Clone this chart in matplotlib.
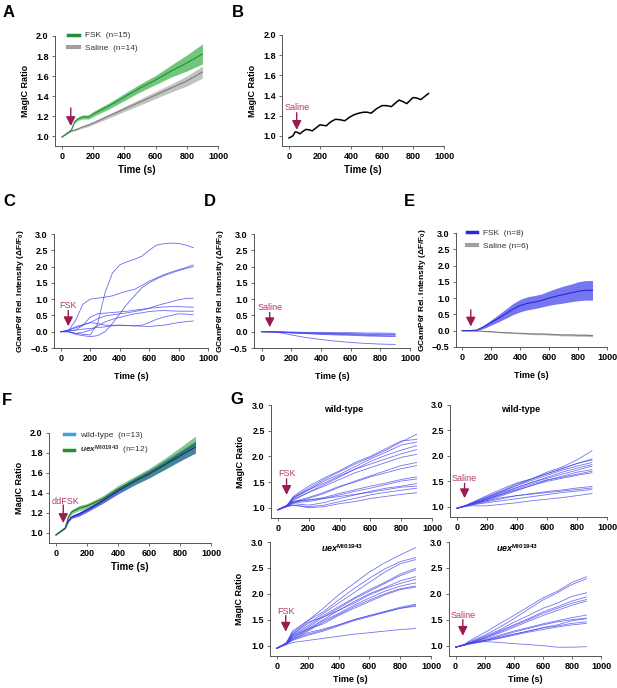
import matplotlib
matplotlib.use('Agg')
import matplotlib.pyplot as plt
from matplotlib.lines import Line2D

plt.rcParams['font.family'] = ['Liberation Sans', 'DejaVu Sans']
plt.rcParams['font.weight'] = 'bold'
plt.rcParams['axes.labelweight'] = 'bold'
plt.rcParams['mathtext.fontset'] = 'custom'
plt.rcParams['mathtext.rm'] = 'Liberation Sans'
plt.rcParams['mathtext.it'] = 'Liberation Sans:italic'
plt.rcParams['mathtext.bf'] = 'Liberation Sans:bold'
HAS_BFIT = 'mathtext.bfit' in plt.rcParams
if HAS_BFIT:
    plt.rcParams['mathtext.bfit'] = 'Liberation Sans:bold:italic'

# ---- data ----
# A: MagIC ratio, mean +/- sem
a_time = [0, 60, 80, 100, 130, 170, 200, 300, 400, 500, 600, 700, 800, 900]
a_fsk = [0.99, 1.06, 1.14, 1.17, 1.19, 1.19, 1.22, 1.30, 1.39, 1.48, 1.56, 1.65, 1.73, 1.82]
a_fsk_sem = [0.0, 0.005, 0.01, 0.015, 0.02, 0.02, 0.025, 0.03, 0.035, 0.04, 0.045, 0.06, 0.08, 0.10]
a_sal = [0.99, 1.05, 1.06, 1.07, 1.09, 1.11, 1.13, 1.20, 1.27, 1.34, 1.41, 1.48, 1.55, 1.64]
a_sal_sem = [0.0, 0.005, 0.01, 0.01, 0.012, 0.015, 0.015, 0.02, 0.025, 0.03, 0.035, 0.04, 0.05, 0.06]

# B: single saline trace
b_time = [0, 25, 40, 55, 70, 90, 110, 130, 150, 175, 200, 220, 240, 270, 300, 330, 360,
          390, 420, 450, 480, 505, 530, 565, 600, 630, 660, 690, 710, 735, 760, 780,
          800, 825, 850, 875, 900]
b_ratio = [0.98, 1.00, 1.04, 1.035, 1.02, 1.045, 1.065, 1.06, 1.05, 1.08, 1.11, 1.105,
           1.10, 1.14, 1.165, 1.16, 1.15, 1.185, 1.21, 1.225, 1.235, 1.235, 1.225, 1.27,
           1.30, 1.30, 1.29, 1.33, 1.355, 1.34, 1.32, 1.35, 1.38, 1.375, 1.36, 1.39, 1.42]

# C: GCaMP6f traces, FSK
c_time = [0, 50, 100, 150, 200, 250, 300, 350, 400, 450, 500, 550, 600, 650, 700, 750, 800, 850, 900]
c_traces = [
    [0, 0.0, -0.05, -0.08, -0.1, 0.25, 1.2, 1.8, 2.05, 2.15, 2.22, 2.32, 2.5, 2.66, 2.7, 2.72, 2.71, 2.66, 2.58],
    [0, 0.02, 0.35, 0.85, 1.0, 1.03, 1.06, 1.1, 1.18, 1.25, 1.3, 1.42, 1.55, 1.65, 1.75, 1.83, 1.9, 1.97, 2.05],
    [0, 0.0, -0.08, -0.12, -0.15, -0.12, 0.0, 0.25, 0.55, 0.85, 1.1, 1.35, 1.5, 1.62, 1.72, 1.8, 1.88, 1.94, 2.0],
    [0, 0.05, 0.12, 0.2, 0.28, 0.4, 0.48, 0.52, 0.55, 0.58, 0.62, 0.66, 0.72, 0.8, 0.86, 0.92, 0.98, 1.02, 1.03],
    [0, 0.02, 0.05, 0.2, 0.45, 0.55, 0.57, 0.59, 0.61, 0.63, 0.66, 0.69, 0.72, 0.74, 0.76, 0.77, 0.77, 0.76, 0.75],
    [0, 0.0, -0.05, -0.02, 0.05, 0.18, 0.3, 0.38, 0.44, 0.5, 0.55, 0.58, 0.62, 0.64, 0.65, 0.64, 0.63, 0.63, 0.63],
    [0, 0.05, 0.15, 0.22, 0.28, 0.25, 0.2, 0.2, 0.2, 0.19, 0.18, 0.2, 0.28, 0.38, 0.45, 0.5, 0.55, 0.54, 0.52],
    [0, 0.02, 0.05, 0.08, 0.1, 0.13, 0.15, 0.18, 0.2, 0.19, 0.18, 0.17, 0.16, 0.18, 0.2, 0.24, 0.28, 0.31, 0.33],
]

# D: GCaMP6f traces, saline
d_time = [0, 100, 200, 300, 400, 500, 600, 700, 800, 900]
d_traces = [
    [0, -0.01, -0.10, -0.18, -0.24, -0.29, -0.33, -0.36, -0.38, -0.39],
    [0, 0.0, -0.01, -0.02, -0.02, -0.03, -0.03, -0.04, -0.04, -0.05],
    [0, 0.0, -0.02, -0.03, -0.04, -0.05, -0.06, -0.07, -0.07, -0.08],
    [0, -0.01, -0.03, -0.04, -0.05, -0.06, -0.07, -0.08, -0.09, -0.10],
    [0, -0.01, -0.03, -0.05, -0.07, -0.08, -0.09, -0.11, -0.12, -0.13],
    [0, -0.01, -0.04, -0.06, -0.08, -0.10, -0.11, -0.13, -0.14, -0.15],
]

# E: GCaMP6f mean +/- sem
e_time = [0, 50, 100, 150, 200, 250, 300, 350, 400, 450, 500, 550, 600, 650, 700, 750, 800, 850, 900]
e_fsk = [0, 0, 0.02, 0.12, 0.25, 0.38, 0.52, 0.66, 0.77, 0.84, 0.88, 0.93, 1.0, 1.06, 1.11, 1.16, 1.21, 1.24, 1.24]
e_fsk_sem = [0, 0.005, 0.02, 0.05, 0.08, 0.11, 0.14, 0.17, 0.19, 0.2, 0.2, 0.2, 0.22, 0.24, 0.26, 0.27, 0.29, 0.3, 0.3]
e_sal = [0, 0, -0.01, -0.02, -0.03, -0.05, -0.06, -0.07, -0.08, -0.09, -0.1, -0.1, -0.11, -0.12, -0.13, -0.13, -0.14, -0.14, -0.15]
e_sal_sem = [0, 0.003, 0.005, 0.008, 0.01, 0.012, 0.014, 0.016, 0.018, 0.02, 0.022, 0.024, 0.026, 0.028, 0.03, 0.032, 0.034, 0.036, 0.038]

# F: MagIC ratio, wild-type vs uex, ddFSK
f_time = [0, 60, 80, 100, 150, 200, 300, 400, 500, 600, 700, 800, 900]
f_wt = [0.98, 1.05, 1.12, 1.16, 1.19, 1.23, 1.32, 1.42, 1.51, 1.59, 1.68, 1.77, 1.86]
f_wt_sem = [0, 0.005, 0.01, 0.015, 0.02, 0.02, 0.025, 0.03, 0.035, 0.04, 0.045, 0.05, 0.06]
f_uex = [0.98, 1.05, 1.16, 1.21, 1.25, 1.27, 1.34, 1.44, 1.52, 1.60, 1.69, 1.79, 1.89]
f_uex_sem = [0, 0.005, 0.015, 0.02, 0.025, 0.025, 0.03, 0.035, 0.04, 0.045, 0.055, 0.065, 0.08]

# G: individual MagIC traces
g_time = [0, 60, 100, 200, 300, 400, 500, 600, 700, 800, 900]
g_wt_fsk = [
    [0.96, 1.05, 1.20, 1.38, 1.55, 1.70, 1.85, 1.98, 2.12, 2.28, 2.43],
    [0.96, 1.04, 1.22, 1.42, 1.58, 1.72, 1.88, 2.00, 2.15, 2.30, 2.33],
    [0.96, 1.05, 1.18, 1.35, 1.52, 1.65, 1.80, 1.95, 2.08, 2.22, 2.28],
    [0.96, 1.04, 1.15, 1.30, 1.45, 1.60, 1.75, 1.90, 2.02, 2.12, 2.21],
    [0.96, 1.05, 1.20, 1.35, 1.48, 1.62, 1.75, 1.85, 1.95, 2.05, 2.13],
    [0.96, 1.04, 1.16, 1.30, 1.42, 1.55, 1.68, 1.78, 1.88, 1.98, 2.04],
    [0.96, 1.03, 1.10, 1.18, 1.28, 1.40, 1.52, 1.62, 1.72, 1.82, 1.88],
    [0.96, 1.04, 1.12, 1.20, 1.30, 1.42, 1.50, 1.60, 1.68, 1.76, 1.82],
    [0.96, 1.04, 1.12, 1.15, 1.20, 1.28, 1.35, 1.42, 1.48, 1.55, 1.60],
    [0.96, 1.03, 1.10, 1.12, 1.18, 1.25, 1.32, 1.38, 1.45, 1.52, 1.56],
    [0.96, 1.03, 1.08, 1.05, 1.10, 1.18, 1.25, 1.32, 1.38, 1.42, 1.47],
    [0.96, 1.04, 1.12, 1.15, 1.18, 1.22, 1.26, 1.30, 1.35, 1.40, 1.42],
    [0.96, 1.03, 1.05, 1.02, 1.05, 1.12, 1.18, 1.25, 1.30, 1.34, 1.38],
    [0.96, 1.02, 1.05, 1.00, 1.02, 1.08, 1.12, 1.18, 1.22, 1.26, 1.29],
]
g_wt_sal = [
    [0.97, 1.02, 1.06, 1.18, 1.30, 1.42, 1.55, 1.68, 1.78, 1.92, 2.10],
    [0.97, 1.03, 1.08, 1.22, 1.35, 1.47, 1.55, 1.65, 1.75, 1.85, 1.94],
    [0.97, 1.03, 1.08, 1.20, 1.32, 1.45, 1.55, 1.65, 1.75, 1.85, 1.92],
    [0.97, 1.02, 1.07, 1.18, 1.30, 1.42, 1.52, 1.62, 1.72, 1.80, 1.87],
    [0.97, 1.02, 1.06, 1.15, 1.26, 1.38, 1.48, 1.58, 1.68, 1.76, 1.83],
    [0.97, 1.02, 1.06, 1.16, 1.28, 1.38, 1.48, 1.56, 1.64, 1.72, 1.80],
    [0.97, 1.02, 1.05, 1.12, 1.22, 1.32, 1.42, 1.52, 1.60, 1.68, 1.73],
    [0.97, 1.02, 1.05, 1.14, 1.24, 1.35, 1.45, 1.53, 1.58, 1.64, 1.70],
    [0.97, 1.02, 1.04, 1.10, 1.16, 1.22, 1.26, 1.30, 1.33, 1.37, 1.40],
    [0.97, 1.02, 1.05, 1.12, 1.18, 1.22, 1.25, 1.28, 1.31, 1.34, 1.37],
    [0.97, 1.01, 1.04, 1.08, 1.12, 1.16, 1.20, 1.24, 1.28, 1.31, 1.34],
    [0.97, 1.01, 1.02, 1.02, 1.05, 1.08, 1.12, 1.15, 1.18, 1.22, 1.26],
    [0.97, 1.02, 1.06, 1.15, 1.25, 1.33, 1.42, 1.50, 1.56, 1.62, 1.67],
]
g_uex_fsk = [
    [0.95, 1.05, 1.25, 1.48, 1.72, 1.98, 2.20, 2.42, 2.60, 2.75, 2.89],
    [0.95, 1.04, 1.28, 1.48, 1.65, 1.88, 2.10, 2.30, 2.48, 2.62, 2.70],
    [0.95, 1.05, 1.22, 1.42, 1.62, 1.82, 2.02, 2.22, 2.42, 2.58, 2.66],
    [0.95, 1.04, 1.20, 1.38, 1.58, 1.75, 1.92, 2.08, 2.22, 2.38, 2.49],
    [0.95, 1.04, 1.18, 1.35, 1.55, 1.72, 1.90, 2.05, 2.20, 2.35, 2.46],
    [0.95, 1.05, 1.22, 1.45, 1.55, 1.68, 1.85, 2.00, 2.12, 2.25, 2.33],
    [0.95, 1.04, 1.18, 1.32, 1.50, 1.68, 1.82, 1.98, 2.10, 2.20, 2.28],
    [0.95, 1.04, 1.15, 1.30, 1.48, 1.62, 1.78, 1.92, 2.05, 2.15, 2.21],
    [0.95, 1.03, 1.12, 1.28, 1.45, 1.60, 1.75, 1.88, 2.00, 2.10, 2.15],
    [0.95, 1.04, 1.15, 1.32, 1.42, 1.58, 1.72, 1.85, 1.98, 2.08, 2.13],
    [0.95, 1.03, 1.12, 1.22, 1.30, 1.40, 1.50, 1.58, 1.66, 1.74, 1.80],
    [0.95, 1.03, 1.10, 1.20, 1.28, 1.38, 1.48, 1.56, 1.64, 1.72, 1.78],
    [0.95, 1.03, 1.12, 1.25, 1.32, 1.40, 1.50, 1.58, 1.65, 1.72, 1.76],
    [0.95, 1.02, 1.06, 1.10, 1.14, 1.18, 1.22, 1.25, 1.28, 1.31, 1.33],
]
g_uex_sal = [
    [0.97, 1.02, 1.10, 1.25, 1.42, 1.58, 1.75, 1.92, 2.05, 2.22, 2.33],
    [0.97, 1.02, 1.08, 1.20, 1.35, 1.52, 1.70, 1.88, 2.02, 2.18, 2.29],
    [0.97, 1.02, 1.06, 1.18, 1.30, 1.45, 1.58, 1.72, 1.82, 1.95, 2.02],
    [0.97, 1.01, 1.05, 1.15, 1.28, 1.40, 1.52, 1.65, 1.75, 1.86, 1.94],
    [0.97, 1.02, 1.06, 1.16, 1.26, 1.38, 1.50, 1.62, 1.72, 1.82, 1.89],
    [0.97, 1.01, 1.05, 1.14, 1.24, 1.35, 1.47, 1.58, 1.68, 1.78, 1.86],
    [0.97, 1.01, 1.05, 1.12, 1.20, 1.28, 1.35, 1.42, 1.48, 1.54, 1.59],
    [0.97, 1.01, 1.04, 1.10, 1.18, 1.26, 1.33, 1.40, 1.46, 1.50, 1.53],
    [0.97, 1.01, 1.04, 1.10, 1.16, 1.22, 1.28, 1.34, 1.38, 1.43, 1.46],
    [0.97, 1.01, 1.03, 1.08, 1.14, 1.20, 1.26, 1.31, 1.36, 1.40, 1.43],
    [0.97, 1.02, 1.05, 1.10, 1.15, 1.22, 1.28, 1.35, 1.40, 1.48, 1.52],
    [0.97, 1.02, 1.06, 1.08, 1.06, 1.04, 1.02, 1.00, 0.97, 0.97, 0.98],
]

ARROW = '#9a1b52'
LABEL = '#b3366f'
TRACE = '#4545ec'
GREEN, GREEN_BAND = '#1f8f3a', '#4db85a'
GREY, GREY_BAND = '#7d7d7d', '#b8b8b8'

W, H = 617, 688
fig = plt.figure(figsize=(W / 100, H / 100), dpi=100)


def frame(l, r, b, t, xlim, ylim, yticks):
    # l, r, b, t in pixels of the whole image
    ax = fig.add_axes([l / W, 1 - b / H, (r - l) / W, (b - t) / H])
    ax.set_xlim(*xlim)
    ax.set_ylim(*ylim)
    ax.set_xticks([0, 200, 400, 600, 800, 1000])
    ax.set_yticks(yticks)
    for s in ('top', 'right'):
        ax.spines[s].set_visible(False)
    for s in ('left', 'bottom'):
        ax.spines[s].set_color('#555555')
        ax.spines[s].set_linewidth(0.7)
    ax.tick_params(labelsize=6.5, width=0.6, length=2.5, color='#555555', pad=2)
    ax.patch.set_alpha(0)
    return ax


def mark(ax, t, top, tip, label=None, ly=None, lx=None):
    ax.annotate('', xy=(t, tip), xytext=(t, top),
                arrowprops=dict(arrowstyle='-|>,head_width=0.28,head_length=0.55',
                                color=ARROW, lw=1.0, shrinkA=0, shrinkB=0))
    if label:
        ax.text(t if lx is None else lx, ly, label, ha='center', va='center',
                color=LABEL, fontsize=6.5, fontweight='normal')


def band(ax, x, m, s, line, fill, alpha=0.85, lw=0.8):
    lo = [a - b for a, b in zip(m, s)]
    hi = [a + b for a, b in zip(m, s)]
    ax.fill_between(x, lo, hi, color=fill, alpha=alpha, lw=0)
    ax.plot(x, m, color=line, lw=lw)


def legend(ax, handles, labels, anchor):
    lg = ax.legend(handles, labels, loc='upper left', bbox_to_anchor=anchor,
                   frameon=False, handlelength=1.3, handletextpad=0.7,
                   borderpad=0, borderaxespad=0, labelspacing=0.6,
                   prop={'weight': 'normal', 'size': 6})
    for t in lg.get_texts():
        t.set_color('#333333')


magic_ticks = [1.0, 1.2, 1.4, 1.6, 1.8, 2.0]
gc_ticks = [-0.5, 0.0, 0.5, 1.0, 1.5, 2.0, 2.5, 3.0]
g_ticks = [1.0, 1.5, 2.0, 2.5, 3.0]
gc_label = 'GCamP6f Rel. Intensity (ΔF/F$_\\mathbf{0}$)'

# ---- A ----
ax = frame(55, 218, 146, 36, (-45, 1000), (0.9, 2.0), magic_ticks)
band(ax, a_time, a_sal, a_sal_sem, GREY, GREY_BAND)
band(ax, a_time, a_fsk, a_fsk_sem, GREEN, GREEN_BAND, alpha=0.8)
mark(ax, 56, 1.28, 1.10)
ax.set_xlabel('Time (s)', fontsize=7, labelpad=3)
ax.set_ylabel('MagIC Ratio', fontsize=6.5, labelpad=4)
legend(ax, [Line2D([], [], color=GREEN, lw=2.5), Line2D([], [], color='#a0a0a0', lw=3)],
       ['FSK  (n=15)', 'Saline  (n=14)'], (0.08, 1.04))

# ---- B ----
ax = frame(282, 444, 146, 35, (-45, 1000), (0.9, 2.0), magic_ticks)
ax.plot(b_time, b_ratio, color='black', lw=1.1)
mark(ax, 50, 1.23, 1.06, 'Saline', 1.28)
ax.set_xlabel('Time (s)', fontsize=7, labelpad=3)
ax.set_ylabel('MagIC Ratio', fontsize=6.5, labelpad=4)

# ---- C ----
ax = frame(54, 208, 348, 234, (-47, 1000), (-0.5, 3.0), gc_ticks)
for tr in c_traces:
    ax.plot(c_time, tr, color=TRACE, lw=0.6, alpha=0.8)
mark(ax, 50, 0.65, 0.17, 'FSK', 0.80)
ax.set_xlabel('Time (s)', fontsize=6.5, labelpad=6)
ax.set_ylabel(gc_label, fontsize=6, labelpad=3)

# ---- D ----
ax = frame(254, 410, 348, 234, (-52, 1000), (-0.5, 3.0), gc_ticks)
for tr in d_traces:
    ax.plot(d_time, tr, color=TRACE, lw=0.6, alpha=0.8)
mark(ax, 54, 0.59, 0.14, 'Saline', 0.73)
ax.set_xlabel('Time (s)', fontsize=6.5, labelpad=6)
ax.set_ylabel(gc_label, fontsize=6, labelpad=3)

# ---- E ----
ax = frame(456, 607, 347, 233, (-42, 1000), (-0.5, 3.0), gc_ticks)
band(ax, e_time, e_sal, e_sal_sem, GREY, GREY_BAND)
band(ax, e_time, e_fsk, e_fsk_sem, '#2a2ad0', '#6767f2', alpha=0.9)
mark(ax, 60, 0.64, 0.13)
ax.set_xlabel('Time (s)', fontsize=6.5, labelpad=6)
ax.set_ylabel(gc_label, fontsize=6, labelpad=3)
legend(ax, [Line2D([], [], color='#2a2ad0', lw=2.5), Line2D([], [], color='#a0a0a0', lw=3)],
       ['FSK  (n=8)', 'Saline (n=6)'], (0.07, 1.03))

# ---- F ----
ax = frame(49, 211, 543, 433, (-45, 1000), (0.9, 2.0), magic_ticks)
band(ax, f_time, f_wt, f_wt_sem, '#1c1ca8', '#5656ee', alpha=0.9)
band(ax, f_time, f_uex, f_uex_sem, '#1d6e33', '#2ea347', alpha=0.6)
mark(ax, 47, 1.28, 1.10, 'ddFSK', 1.32, lx=60)
ax.set_xlabel('Time (s)', fontsize=7, labelpad=3)
ax.set_ylabel('MagIC Ratio', fontsize=6.5, labelpad=4)
legend(ax, [Line2D([], [], color='#35a8e8', lw=2.5), Line2D([], [], color=GREEN, lw=2.5)],
       ['wild-type  (n=13)', r'$\mathit{uex}^{\mathrm{MI01943}}$  (n=12)'], (0.09, 1.02))

# ---- G ----
uex_title = r'$\mathbfit{uex}^{\mathbf{MI01943}}$' if HAS_BFIT else r'$\mathit{uex}^{\mathbf{MI01943}}$'
g_panels = [
    ((271, 432, 518, 405), g_wt_fsk, 'wild-type', (56, 1.56, 1.25, 'FSK', 1.66), True, False),
    ((450, 607, 517, 405), g_wt_sal, 'wild-type', (52, 1.46, 1.17, 'Saline', 1.56), False, False),
    ((270, 431, 656, 542), g_uex_fsk, uex_title, (57, 1.58, 1.27, 'FSK', 1.66), True, True),
    ((449, 601, 656, 542), g_uex_sal, uex_title, (50, 1.50, 1.19, 'Saline', 1.58), False, True),
]
for (l, r, b, t), traces, title, arr, ylab, xlab in g_panels:
    ax = frame(l, r, b, t, (-45, 1000), (0.8, 3.0), g_ticks)
    for tr in traces:
        ax.plot(g_time, tr, color=TRACE, lw=0.6, alpha=0.75)
    mark(ax, arr[0], arr[1], arr[2], arr[3], arr[4])
    ax.text(0.45, 1.0, title, transform=ax.transAxes, ha='center', va='top',
            fontsize=6.5, fontweight='bold')
    if ylab:
        ax.set_ylabel('MagIC Ratio', fontsize=6.5, labelpad=5)
    if xlab:
        ax.set_xlabel('Time (s)', fontsize=6.5, labelpad=3)

# ---- panel letters ----
for letter, x, y in [('A', 3, 5), ('B', 232, 5), ('C', 3, 194), ('D', 204, 194),
                     ('E', 404, 194), ('F', 2, 393), ('G', 230, 392)]:
    fig.text(x / W, 1 - y / H, letter, fontsize=12, fontweight='bold', ha='left', va='top')

fig.savefig('out.png', dpi=100)
